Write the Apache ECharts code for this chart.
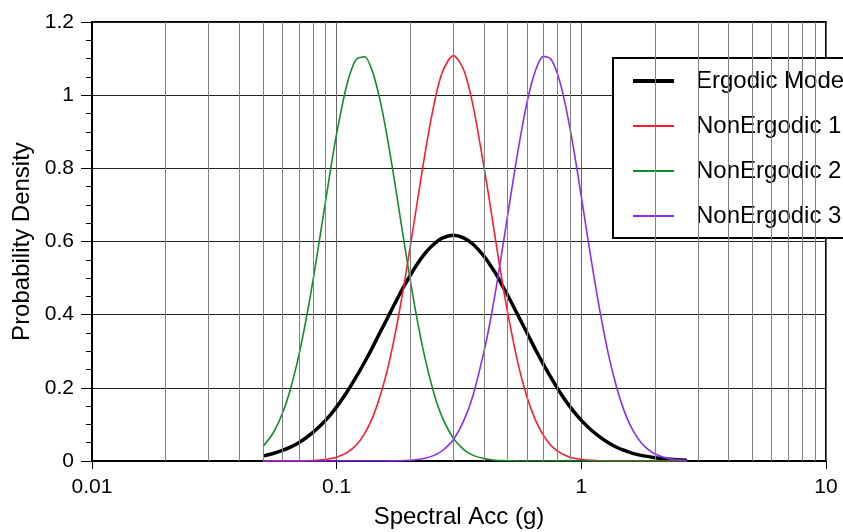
<!DOCTYPE html>
<html>
<head>
<meta charset="utf-8">
<style>
  html, body { margin: 0; padding: 0; background: #fff; }
  #main { width: 843px; height: 532px; }
</style>
<script src="https://cdn.jsdelivr.net/npm/echarts@6/dist/echarts.min.js"></script>
</head>
<body>
<div id="main"></div>
<script>
// spectral acceleration samples (g)
var accVals = [0.05, 0.055, 0.06, 0.065, 0.07, 0.075, 0.08, 0.085, 0.09, 0.095,
  0.1, 0.11, 0.12, 0.13, 0.14, 0.15, 0.16, 0.17, 0.18, 0.19,
  0.21, 0.23, 0.25, 0.27, 0.3, 0.33, 0.36, 0.4, 0.42, 0.45,
  0.475, 0.5, 0.55, 0.6, 0.65, 0.7, 0.75, 0.8, 0.85, 0.9,
  0.95, 1.0, 1.1, 1.2, 1.3, 1.4, 1.5, 1.6, 1.7, 1.8,
  2.0, 2.3, 2.7];

var ergodic = [0.014, 0.0205, 0.029, 0.0388, 0.050, 0.0636, 0.078, 0.094, 0.111, 0.129,
  0.148, 0.188, 0.229, 0.270, 0.310, 0.350, 0.386, 0.421, 0.453, 0.482,
  0.531, 0.568, 0.593, 0.609, 0.617, 0.610, 0.593, 0.560, 0.540, 0.509,
  0.480, 0.453, 0.399, 0.350, 0.304, 0.264, 0.229, 0.198, 0.171, 0.148,
  0.128, 0.111, 0.084, 0.064, 0.0484, 0.037, 0.0288, 0.022, 0.0175, 0.014,
  0.009, 0.0045, 0.002];

var nonErg1 = [0, 0, 0.0001, 0.0001, 0.0003, 0.0007, 0.0013, 0.0024, 0.0041, 0.0068,
  0.0105, 0.023, 0.043, 0.075, 0.118, 0.174, 0.241, 0.319, 0.405, 0.495,
  0.677, 0.843, 0.975, 1.062, 1.108, 1.070, 0.975, 0.804, 0.717, 0.588,
  0.490, 0.405, 0.269, 0.174, 0.111, 0.070, 0.043, 0.027, 0.0169, 0.0105,
  0.0066, 0.0041, 0.0016, 0.0006, 0.0002, 0.0001, 0, 0, 0, 0,
  0, 0, 0];

var nonErg2 = [0.040, 0.0766, 0.130, 0.201, 0.288, 0.387, 0.493, 0.603, 0.709, 0.808,
  0.895, 1.028, 1.097, 1.105, 1.065, 0.990, 0.895, 0.790, 0.685, 0.585,
  0.411, 0.279, 0.184, 0.120, 0.062, 0.032, 0.016, 0.0066, 0.0043, 0.0022,
  0.0013, 0.0008, 0.0003, 0.0001, 0, 0, 0, 0, 0, 0,
  0, 0, 0, 0, 0, 0, 0, 0, 0, 0,
  0, 0, 0];

var nonErg3 = [0, 0, 0, 0, 0, 0, 0, 0, 0, 0,
  0, 0, 0, 0, 0, 0.0001, 0.0002, 0.0004, 0.0007, 0.0012,
  0.0033, 0.0076, 0.0154, 0.028, 0.059, 0.109, 0.177, 0.299, 0.367, 0.479,
  0.577, 0.672, 0.845, 0.981, 1.068, 1.106, 1.099, 1.057, 0.990, 0.907,
  0.816, 0.722, 0.546, 0.398, 0.282, 0.197, 0.135, 0.092, 0.0624, 0.042,
  0.019, 0.0058, 0.0013];

var seriesNames = ["Ergodic Model", "NonErgodic 1", "NonErgodic 2", "NonErgodic 3"];
var seriesColors = ["#000", "#ff1a33", "#168a2c", "#8a2cf5"];

// minor vertical grid lines (2..9 per decade)
var minorGrid = [0.02, 0.03, 0.04, 0.05, 0.06, 0.07, 0.08, 0.09,
  0.2, 0.3, 0.4, 0.5, 0.6, 0.7, 0.8, 0.9,
  2, 3, 4, 5, 6, 7, 8, 9];

function pairs(ys) {
  var out = [];
  for (var i = 0; i < accVals.length; i++) {
    out.push([accVals[i], ys[i]]);
  }
  return out;
}

function curve(idx, ys, w) {
  return {
    name: seriesNames[idx], type: "line", data: pairs(ys),
    symbol: "none", smooth: 0.3,
    lineStyle: { color: seriesColors[idx], width: w },
    itemStyle: { color: seriesColors[idx] }
  };
}

var font = "Liberation Sans, Arial, Helvetica, sans-serif";
var chart = echarts.init(document.getElementById("main"));

var option = {
  animation: false,
  backgroundColor: "#fff",
  grid: {
    left: 92, right: 17, top: 22, bottom: 71,
    containLabel: false,
    outerBoundsMode: "none",
    show: true,
    borderColor: "#000",
    borderWidth: 2,
    backgroundColor: "transparent"
  },
  legend: {
    orient: "vertical",
    left: 613,
    top: 58,
    padding: [11, 40, 10, 20],
    itemWidth: 41,
    itemHeight: 24,
    itemGap: 21,
    backgroundColor: "#fff",
    borderColor: "#000",
    borderWidth: 2,
    borderRadius: 0,
    textStyle: { fontFamily: font, fontSize: 24, color: "#000", padding: [0, 0, 0, 17] },
    data: [
      { name: seriesNames[0], icon: "path://M0,0h41v4h-41z" },
      { name: seriesNames[1], icon: "path://M0,0h41v2h-41z" },
      { name: seriesNames[2], icon: "path://M0,0h41v2h-41z" },
      { name: seriesNames[3], icon: "path://M0,0h41v2h-41z" }
    ]
  },
  xAxis: {
    type: "log",
    logBase: 10,
    min: 0.01,
    max: 10,
    name: "Spectral Acc (g)",
    nameLocation: "middle",
    nameGap: 44,
    nameTextStyle: { fontFamily: font, fontSize: 24, color: "#000" },
    axisLine: { show: true, onZero: false, lineStyle: { color: "#000", width: 2 } },
    axisTick: { show: true, inside: false, length: 8, lineStyle: { color: "#000", width: 1 } },
    axisLabel: {
      fontFamily: font, fontSize: 21, color: "#000", margin: 16,
      formatter: function (v) { return String(parseFloat(v.toPrecision(3))); }
    },
    splitLine: { show: true, lineStyle: { color: "#666", width: 1 } },
    minorTick: { show: false },
    minorSplitLine: { show: false }
  },
  yAxis: {
    type: "value",
    min: 0,
    max: 1.2,
    interval: 0.2,
    name: "Probability Density",
    nameLocation: "middle",
    nameGap: 58,
    nameTextStyle: { fontFamily: font, fontSize: 24, color: "#000" },
    axisLine: { show: true, lineStyle: { color: "#000", width: 2 } },
    axisTick: { show: true, inside: false, length: 11, lineStyle: { color: "#000", width: 1 } },
    minorTick: { show: true, splitNumber: 4, length: 6, lineStyle: { color: "#000", width: 1 } },
    axisLabel: { fontFamily: font, fontSize: 21, color: "#000", margin: 18 },
    splitLine: { show: true, lineStyle: { color: "#222", width: 1 } }
  },
  series: [
    {
      name: "gridlines",
      type: "line",
      data: [],
      silent: true,
      markLine: {
        silent: true,
        symbol: ["none", "none"],
        label: { show: false },
        lineStyle: { type: "solid", color: "#808080", width: 1 },
        data: minorGrid.map(function (v) { return { xAxis: v }; })
      }
    },
    curve(0, ergodic, 3.5),
    curve(1, nonErg1, 1.6),
    curve(2, nonErg2, 1.6),
    curve(3, nonErg3, 1.6)
  ]
};
chart.setOption(option);
</script>
</body>
</html>
